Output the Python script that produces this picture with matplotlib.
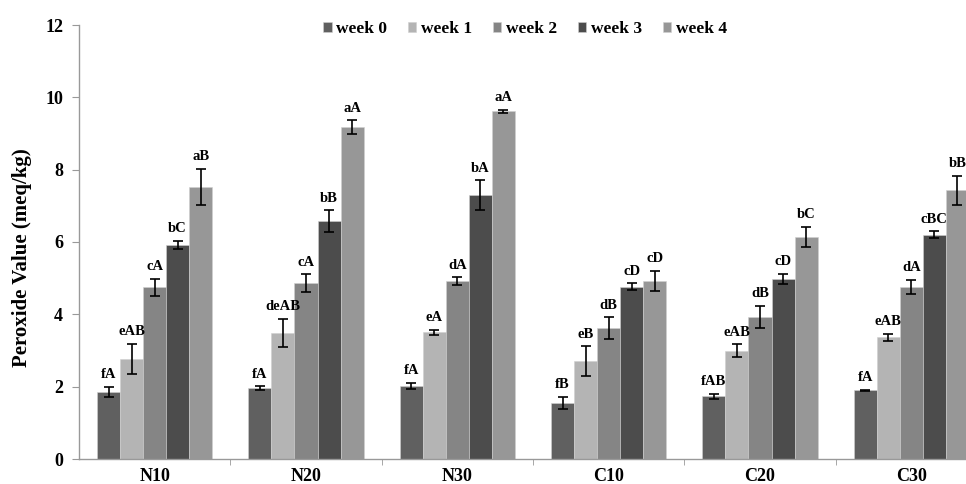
import numpy as np
import matplotlib.pyplot as plt

# data
groups = ['N10', 'N20', 'N30', 'C10', 'C20', 'C30']
weeks = ['week 0', 'week 1', 'week 2', 'week 3', 'week 4']

week0 = [1.85, 1.96, 2.02, 1.55, 1.74, 1.90]
week1 = [2.76, 3.48, 3.51, 2.71, 2.99, 3.37]
week2 = [4.75, 4.87, 4.92, 3.62, 3.93, 4.75]
week3 = [5.92, 6.58, 7.30, 4.76, 4.98, 6.20]
week4 = [7.52, 9.18, 9.62, 4.92, 6.14, 7.43]

err0 = [0.14, 0.05, 0.09, 0.17, 0.07, 0.02]
err1 = [0.42, 0.39, 0.07, 0.41, 0.18, 0.10]
err2 = [0.24, 0.24, 0.11, 0.30, 0.30, 0.20]
err3 = [0.12, 0.30, 0.41, 0.10, 0.14, 0.10]
err4 = [0.50, 0.18, 0.04, 0.28, 0.28, 0.40]

lab0 = ['fA', 'fA', 'fA', 'fB', 'fAB', 'fA']
lab1 = ['eAB', 'deAB', 'eA', 'eB', 'eAB', 'eAB']
lab2 = ['cA', 'cA', 'dA', 'dB', 'dB', 'dA']
lab3 = ['bC', 'bB', 'bA', 'cD', 'cD', 'cBC']
lab4 = ['aB', 'aA', 'aA', 'cD', 'bC', 'bB']

values = [week0, week1, week2, week3, week4]
errors = [err0, err1, err2, err3, err4]
letters = [lab0, lab1, lab2, lab3, lab4]
colors = ['#606060', '#b4b4b4', '#858585', '#4c4c4c', '#979797']

plt.rcParams['font.family'] = ['Liberation Serif', 'DejaVu Serif']
plt.rcParams['font.weight'] = 'bold'

fig = plt.figure(figsize=(9.66, 4.84), dpi=100)
# axes runs a bit past the right edge, like the cropped original
ax = fig.add_axes([79 / 966, 25 / 484, 908 / 966, 434 / 484])

x = np.arange(len(groups))
w = 0.152
for i in range(5):
    pos = x + (i - 2) * w
    ax.bar(pos, values[i], w, color=colors[i], edgecolor='#d0d0d0', linewidth=0.4,
           label=weeks[i], zorder=2)
    ax.errorbar(pos, values[i], yerr=errors[i], fmt='none', ecolor='black',
                elinewidth=1.2, capsize=3.5, capthick=1.2, zorder=3)
    for p, v, e, t in zip(pos, values[i], errors[i], letters[i]):
        ax.annotate(t, (p, v + e), xytext=(0, 4), textcoords='offset points',
                    ha='center', va='bottom', fontsize=10.5, fontweight='bold')

ax.set_xlim(-0.5, 5.5)
ax.set_ylim(0, 12)
ax.set_yticks(range(0, 13, 2))
ax.set_xticks(x)
ax.set_xticklabels(groups)
ax.set_xticks(np.arange(0.5, 5.5, 1), minor=True)
ax.tick_params(axis='x', which='major', length=0, pad=6.5, labelsize=13)
ax.tick_params(axis='x', which='minor', length=4, color='#999999')
ax.tick_params(axis='y', length=5, color='#999999', pad=6.5, labelsize=13)
for lab in ax.get_xticklabels() + ax.get_yticklabels():
    lab.set_fontweight('bold')

for s in ['top', 'right']:
    ax.spines[s].set_visible(False)
for s in ['left', 'bottom']:
    ax.spines[s].set_color('#999999')
    ax.spines[s].set_linewidth(1)

ax.set_ylabel('Peroxide Value (meq/kg)', fontsize=15, fontweight='bold')
ax.yaxis.set_label_coords(-0.052, 0.465)

ax.legend(loc='center', bbox_to_anchor=(0.491, 0.99), ncol=5, frameon=False,
          handlelength=0.5, handleheight=0.5, handletextpad=0.25, columnspacing=1.2,
          prop={'weight': 'bold', 'size': 12.5})

fig.savefig('out.png', dpi=100)
